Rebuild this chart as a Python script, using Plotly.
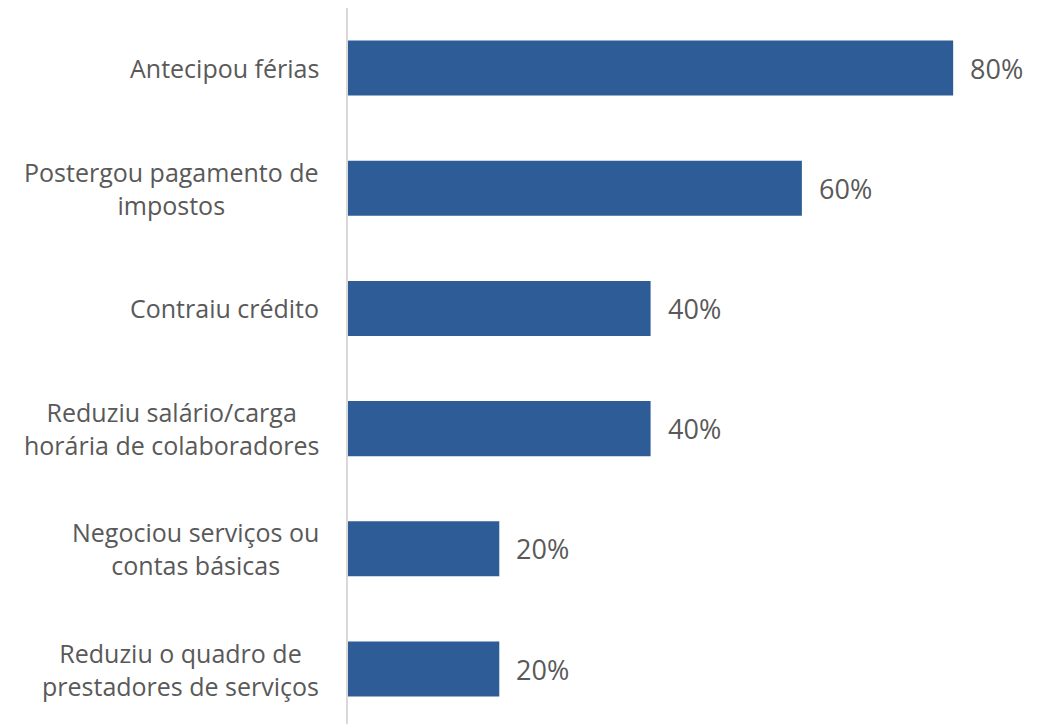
import plotly.graph_objects as go

categorias = [
    "Antecipou férias",
    "Postergou pagamento de<br>impostos",
    "Contraiu crédito",
    "Reduziu salário/carga<br>horária de colaboradores",
    "Negociou serviços ou<br>contas básicas",
    "Reduziu o quadro de<br>prestadores de serviços",
]
percentuais = [0.80, 0.60, 0.40, 0.40, 0.20, 0.20]
rotulos = ["80%", "60%", "40%", "40%", "20%", "20%"]

cor_barra = "#2D5C96"
cor_texto = "#595959"
fonte = "Open Sans"

fig = go.Figure(
    data=[go.Bar(
        x=percentuais, y=categorias, orientation="h",
        marker=dict(color=cor_barra, line=dict(width=0)),
        width=0.458, hoverinfo="skip",
    )]
)

# rotulos das categorias (centralizados como no original)
for cat in categorias:
    fig.add_annotation(
        x=0, xref="paper", y=cat, yref="y", text=cat, showarrow=False,
        xanchor="right", yanchor="middle", align="center", xshift=-27,
        font=dict(family=fonte, size=25, color=cor_texto),
    )

# rotulos de dados
for cat, v, r in zip(categorias, percentuais, rotulos):
    fig.add_annotation(
        x=v, y=cat, text=r, showarrow=False, xanchor="left", yanchor="middle",
        xshift=15, font=dict(family=fonte, size=27, color=cor_texto),
    )

fig.update_layout(
    width=1050, height=724,
    margin=dict(l=340, r=8, t=0, b=8),
    plot_bgcolor="white", paper_bgcolor="white",
    showlegend=False,
    xaxis=dict(range=[0, 0.928], visible=False, fixedrange=True),
    yaxis=dict(
        range=[5.4575, -0.5], showticklabels=False, showgrid=False,
        showline=True, linecolor="#D9D9D9", linewidth=2, zeroline=False,
        ticks="", fixedrange=True,
    ),
)

fig.write_html("out.html")
